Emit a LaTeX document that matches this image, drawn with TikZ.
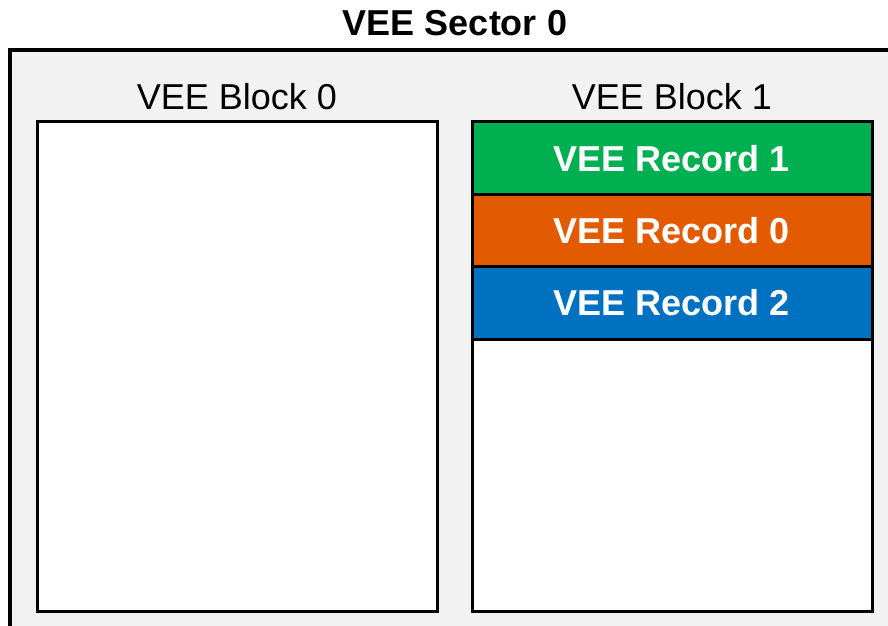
\documentclass[tikz,border=0pt]{standalone}
\usepackage{fontspec}
\setmainfont{Liberation Sans}
\definecolor{bggray}{HTML}{F2F2F2}
\definecolor{recgreen}{HTML}{00AF50}
\definecolor{recorange}{HTML}{E35B00}
\definecolor{recblue}{HTML}{0070C0}
\begin{document}
\begin{tikzpicture}[x=1pt,y=-1pt,
  blockbox/.style={draw=black,line width=3pt,fill=white},
  recbox/.style={draw=black,line width=3pt,text=white,font=\fontsize{36}{40}\selectfont\bfseries},
  lbl/.style={font=\fontsize{36}{40}\selectfont}]
\useasboundingbox (0,0) rectangle (888,625);
\fill[white] (0,0) rectangle (888,625);
% outer sector
\fill[bggray] (10,50) rectangle (892,630);
\draw[line width=3.5pt] (10,630) -- (10,50) -- (892,50);
\node[font=\fontsize{36}{40}\selectfont\bfseries,anchor=base] (title) at (455,35) {VEE Sector 0};
% blocks
\draw[blockbox] (37,121) rectangle (437,611);
\draw[blockbox] (472,121) rectangle (872,611);
\node[lbl,anchor=base] (lb0) at (237,109) {VEE Block 0};
\node[lbl,anchor=base] (lb1) at (672,109) {VEE Block 1};
% records
\filldraw[recbox,fill=recgreen] (472,121) rectangle (872,194);
\filldraw[recbox,fill=recorange] (472,194) rectangle (872,266);
\filldraw[recbox,fill=recblue] (472,266) rectangle (872,339);
\node[recbox,draw=none,anchor=base] (r1) at (672,171) {VEE Record 1};
\node[recbox,draw=none,anchor=base] (r0) at (672,243) {VEE Record 0};
\node[recbox,draw=none,anchor=base] (r2) at (672,315) {VEE Record 2};
\end{tikzpicture}
\end{document}
